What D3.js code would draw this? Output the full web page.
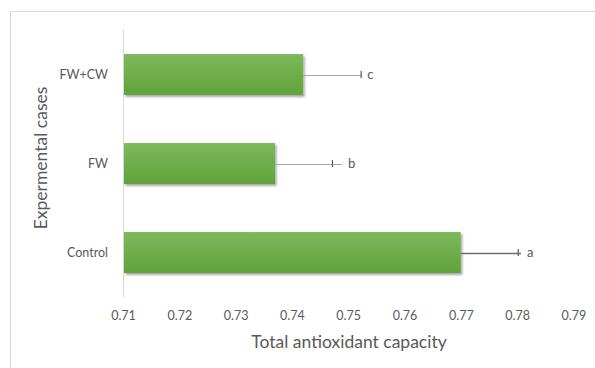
<!DOCTYPE html>
<html>
<head>
<meta charset="utf-8">
<script src="https://cdn.jsdelivr.net/npm/d3@7"></script>
<style>
  html, body { margin: 0; padding: 0; background: #fff; }
  svg { display: block; font-family: Lato, "Open Sans", sans-serif; }
</style>
</head>
<body>
<svg id="chart" width="595" height="368"></svg>
<script>
// Total antioxidant capacity per experimental case
const categories = ["Control", "FW", "FW+CW"];
const values = [0.770, 0.737, 0.742];
const errCap = [0.0102, 0.0102, 0.0103];     // error bar end (capped)
const errReach = [0.0107, 0.0119, 0.0103];   // extent of the error line
const letters = ["a", "b", "c"];
const xTicks = [0.71, 0.72, 0.73, 0.74, 0.75, 0.76, 0.77, 0.78, 0.79];
const xTitle = "Total antioxidant capacity";
const yTitle = "Expermental cases";

const svg = d3.select("#chart");
const W = 595, H = 368;
const plot = { left: 123, right: 573.4, top: 30, bottom: 297 };

// chart-area frame (runs off the right and bottom edges)
svg.append("rect")
  .attr("x", 10.5).attr("y", 11.5)
  .attr("width", W + 20).attr("height", H + 20)
  .attr("fill", "#fff").attr("stroke", "#d9d9d9").attr("stroke-width", 1);

const defs = svg.append("defs");
const grad = defs.append("linearGradient")
  .attr("id", "barGrad").attr("x1", 0).attr("y1", 0).attr("x2", 0).attr("y2", 1);
grad.append("stop").attr("offset", "0%").attr("stop-color", "#7db95c");
grad.append("stop").attr("offset", "100%").attr("stop-color", "#60a33a");

const shadow = defs.append("filter").attr("id", "barShadow")
  .attr("x", "-5%").attr("y", "-20%").attr("width", "115%").attr("height", "150%");
shadow.append("feDropShadow")
  .attr("dx", 1.5).attr("dy", 2).attr("stdDeviation", 1.3)
  .attr("flood-color", "#000").attr("flood-opacity", 0.35);

const x = d3.scaleLinear().domain([0.71, 0.79]).range([plot.left, plot.right]);
const y = d3.scaleBand()
  .domain(categories.slice().reverse())
  .range([plot.top, plot.bottom])
  .paddingInner(0.54).paddingOuter(0.27);

const rows = categories.map((c, i) => ({
  cat: c, v: values[i], cap: values[i] + errCap[i],
  reach: values[i] + errReach[i], letter: letters[i]
}));

// vertical axis line
svg.append("line")
  .attr("x1", x(0.71) + 0.5).attr("x2", x(0.71) + 0.5)
  .attr("y1", plot.top).attr("y2", plot.bottom)
  .attr("stroke", "#d9d9d9").attr("stroke-width", 1);

// bars
svg.append("g").selectAll("rect").data(rows).join("rect")
  .attr("x", x(0.71) + 1)
  .attr("y", d => y(d.cat))
  .attr("width", d => x(d.v) - x(0.71) - 1)
  .attr("height", y.bandwidth())
  .attr("fill", "url(#barGrad)")
  .attr("filter", "url(#barShadow)");

// error bars
const eb = svg.append("g").selectAll("g").data(rows).join("g");
eb.append("line")
  .attr("x1", d => x(d.v)).attr("x2", d => x(d.reach))
  .attr("y1", d => Math.round(y(d.cat) + y.bandwidth() / 2) + 0.5)
  .attr("y2", d => Math.round(y(d.cat) + y.bandwidth() / 2) + 0.5)
  .attr("stroke", d => d.cat === "Control" ? "#6e6e6e" : "#a6a6a6")
  .attr("stroke-width", d => d.cat === "Control" ? 1.6 : 1.2);
eb.append("line")
  .attr("x1", d => x(d.cap)).attr("x2", d => x(d.cap))
  .attr("y1", d => y(d.cat) + y.bandwidth() / 2 - 3.5)
  .attr("y2", d => y(d.cat) + y.bandwidth() / 2 + 3.5)
  .attr("stroke", "#595959").attr("stroke-width", 1.2);
eb.append("text")
  .attr("x", d => x(Math.max(d.cap, d.reach)) + 6)
  .attr("y", d => y(d.cat) + y.bandwidth() / 2)
  .attr("dy", "0.35em")
  .attr("fill", "#595959").attr("font-size", 13)
  .text(d => d.letter);

// x tick labels
const xAxis = d3.axisBottom(x).tickValues(xTicks).tickSize(0).tickFormat(d3.format(".2f"));
const gx = svg.append("g").attr("transform", `translate(0,${plot.bottom})`).call(xAxis);
gx.select(".domain").remove();
gx.selectAll("text")
  .attr("y", 23).attr("dy", 0)
  .attr("fill", "#595959").attr("font-size", 12.5)
  .attr("font-family", "Lato, sans-serif");

// y category labels
const yAxis = d3.axisLeft(y).tickSize(0);
const gy = svg.append("g").attr("transform", `translate(${plot.left},0)`).call(yAxis);
gy.select(".domain").remove();
gy.selectAll("text")
  .attr("x", -15)
  .attr("fill", "#595959").attr("font-size", 12.5)
  .attr("font-family", "Lato, sans-serif");

// axis titles
svg.append("text")
  .attr("x", 349).attr("y", 348)
  .attr("text-anchor", "middle")
  .attr("fill", "#595959").attr("font-size", 17.5)
  .text(xTitle);
svg.append("text")
  .attr("transform", "translate(47,158) rotate(-90)")
  .attr("text-anchor", "middle")
  .attr("fill", "#595959").attr("font-size", 17.5)
  .text(yTitle);
</script>
</body>
</html>
